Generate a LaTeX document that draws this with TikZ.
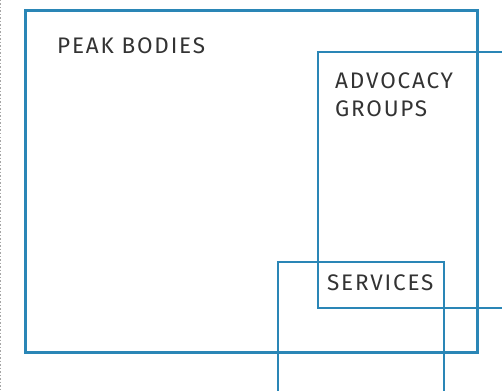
\documentclass[tikz,border=0pt]{standalone}
\usepackage{fontspec}
\setmainfont{Fira Sans}[LetterSpace=8]
\definecolor{boxblue}{HTML}{2A86B6}
\definecolor{txt}{HTML}{333333}
\begin{document}
\begin{tikzpicture}[x=1pt,y=-1pt,
  thickbox/.style={draw=boxblue,line width=3.2pt},
  thinbox/.style={draw=boxblue,line width=2pt},
  lbl/.style={text=txt,font=\fontsize{22.5}{28}\selectfont,anchor=base west,inner sep=0pt}]
\useasboundingbox (0,0) rectangle (502,390);
\fill[white] (0,0) rectangle (502,390);
\draw[gray!70,line width=0.8pt,dash pattern=on 1.5pt off 2pt] (0.8,0) -- (0.8,390);
\draw[thickbox] (25.5,10.5) rectangle (477.5,352.5);
\draw[thinbox] (505,52.5) -- (317.5,52.5) -- (317.5,308) -- (505,308);
\draw[thinbox] (277.5,395) -- (277.5,261.5) -- (443.5,261.5) -- (443.5,395);
\node[lbl] (peak) at (57,54) {PEAK BODIES};
\node[lbl] (adv) at (335,89) {ADVOCACY};
\node[lbl] (grp) at (335,117) {GROUPS};
\node[lbl] (serv) at (327,290) {SERVICES};
\end{tikzpicture}
\end{document}
